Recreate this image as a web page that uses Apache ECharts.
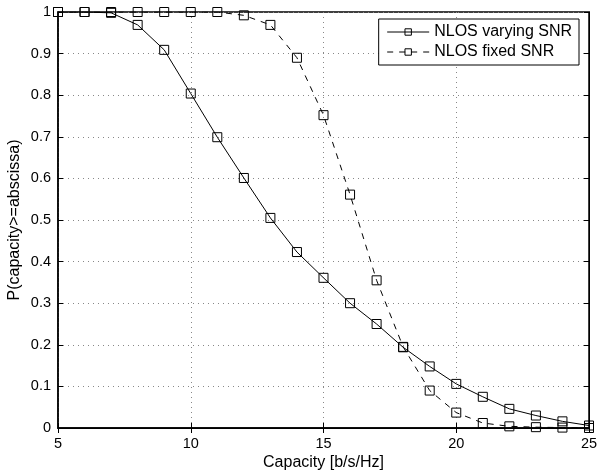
<!DOCTYPE html>
<html><head><meta charset="utf-8">
<script src="https://cdn.jsdelivr.net/npm/echarts@6/dist/echarts.min.js"></script>
<style>html,body{margin:0;padding:0;background:#fff}#c{width:597px;height:473px}</style>
</head><body><div id="c"></div>
<script>
const capacity = [5,6,7,8,9,10,11,12,13,14,15,16,17,18,19,20,21,22,23,24,25];
const varyingSNR = [1,1,0.998,0.969,0.909,0.804,0.699,0.601,0.505,0.423,0.361,0.300,0.250,0.194,0.148,0.106,0.075,0.046,0.030,0.016,0.006];
const fixedSNR = [1,1,1,1,1,1,1,0.992,0.969,0.890,0.752,0.561,0.355,0.195,0.090,0.037,0.012,0.004,0.002,0.001,0.0];
const seriesNames = ['NLOS varying SNR','NLOS fixed SNR'];
const xTicks = [5,10,15,20,25];

const font = 'Liberation Sans, Arial, Helvetica, sans-serif';
const chart = echarts.init(document.getElementById('c'));
const pair = (ys) => capacity.map((x,i)=>[x, ys[i]]);
const commonTick = {show:true, inside:true, length:5, lineStyle:{color:'#000'}};
chart.setOption({
  animation:false,
  grid: {left:58, right:8, top:12, bottom:45, containLabel:false, outerBoundsMode:'none', show:true, borderColor:'#000', borderWidth:1.5, backgroundColor:'#fff'},
  legend: {
    right: 18, top: 19,
    orient:'vertical',
    backgroundColor:'#fff', borderColor:'#000', borderWidth:1,
    padding:[5,7,5,8], itemGap:4, itemWidth:42, itemHeight:8,
    textStyle:{fontFamily:font, fontSize:16, color:'#000'},
    lineStyle:{width:1},
    itemStyle:{borderWidth:1},
    data: seriesNames
  },
  xAxis: [{
    type:'value', min:5, max:25, interval:5,
    name:'Capacity [b/s/Hz]', nameLocation:'middle', nameGap:27, nameMoveOverlap:false,
    nameTextStyle:{fontFamily:font, fontSize:16, color:'#000'},
    axisLine:{show:true, lineStyle:{color:'#000', width:1.5}},
    axisTick: commonTick,
    axisLabel:{fontFamily:font, fontSize:14.5, color:'#000', margin:8, formatter:(v)=> xTicks.includes(v)? String(v):''},
    splitLine:{show:true, lineStyle:{color:'#888', type:[1,4], width:1}}
  },{
    type:'value', min:5, max:25, interval:5, position:'top',
    axisLine:{show:true, lineStyle:{color:'#000'}},
    axisTick: commonTick, axisLabel:{show:false}, splitLine:{show:false}
  }],
  yAxis: [{
    type:'value', min:0, max:1, interval:0.1,
    name:'P(capacity>=abscissa)', nameLocation:'middle', nameGap:35, nameMoveOverlap:false,
    nameTextStyle:{fontFamily:font, fontSize:16, color:'#000'},
    axisLine:{show:true, lineStyle:{color:'#000', width:1.5}},
    axisTick: commonTick,
    axisLabel:{fontFamily:font, fontSize:14.5, color:'#000', margin:7, formatter:(v)=> (Math.round(v*10)/10).toString()},
    splitLine:{show:true, lineStyle:{color:'#888', type:[1,4], width:1}}
  },{
    type:'value', min:0, max:1, interval:0.1, position:'right',
    axisLine:{show:true, lineStyle:{color:'#000'}},
    axisTick: commonTick, axisLabel:{show:false}, splitLine:{show:false}
  }],
  series: [{
    name: seriesNames[0], type:'line', data: pair(varyingSNR),
    symbol:'rect', symbolSize:9, showAllSymbol:true,
    lineStyle:{color:'#000', width:1},
    itemStyle:{color:'rgba(0,0,0,0)', borderColor:'#000', borderWidth:1},
    z:3
  },{
    name: seriesNames[1], type:'line', data: pair(fixedSNR),
    symbol:'rect', symbolSize:9, showAllSymbol:true,
    lineStyle:{color:'#000', width:1, type:[6,6]},
    itemStyle:{color:'rgba(0,0,0,0)', borderColor:'#000', borderWidth:1},
    z:4
  }]
});
</script></body></html>
